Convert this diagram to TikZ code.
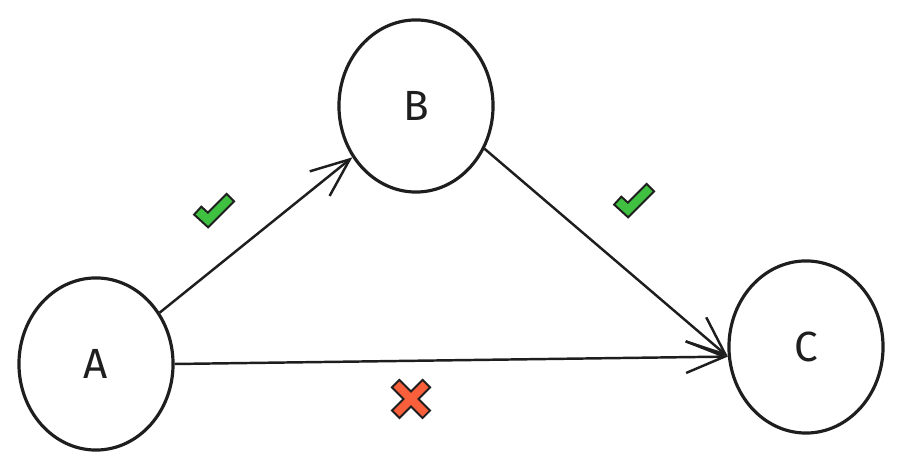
\documentclass[tikz,border=0pt]{standalone}
\usepackage{fontspec}
\setmainfont{Fira Sans}
\usepackage{xcolor}
\usetikzlibrary{arrows.meta,shapes.geometric}
\definecolor{ink}{RGB}{30,30,30}
\definecolor{okgreen}{RGB}{64,192,64}
\definecolor{nored}{RGB}{250,95,60}

\tikzset{
  okmark/.pic={
    \draw[ink, line width=3.6pt, line join=miter] (-11,-10)--(0,0)--(23,-23);
    \draw[okgreen, line width=2.4pt, line join=miter, shorten <=0.6pt, shorten >=0.6pt]
      (-11,-10)--(0,0)--(23,-23);},
  nomark/.pic={
    \foreach \s in {1,-1}{
      \draw[ink, line width=3.6pt] (-16,-16*\s)--(16,16*\s);}
    \foreach \s in {1,-1}{
      \draw[nored, line width=2.4pt, shorten <=0.6pt, shorten >=0.6pt] (-16,-16*\s)--(16,16*\s);}}
}

\begin{document}
\begin{tikzpicture}[
  x=0.01cm, y=-0.01cm,
  ball/.style={draw=ink, ellipse, line width=0.9pt, minimum width=1.54cm,
               minimum height=1.72cm, inner sep=0pt, font=\large, text=ink},
  edge/.style={draw=ink, line width=0.7pt,
               -{Straight Barb[length=11pt,width=9pt,line width=0.7pt]}}]
\useasboundingbox (0,0) rectangle (903,468);
\node[ball] (A) at (96,364) {A};
\node[ball] (B) at (416,106) {B};
\node[ball] (C) at (806,347) {C};
\draw[edge] (A) -- (B);
\draw[edge] (B.-32) -- (C.187);
\draw[edge] (A.east) -- (C.187);
\pic at (208,220) {okmark};
\pic at (628,210) {okmark};
\pic at (411,399) {nomark};
\end{tikzpicture}
\end{document}
